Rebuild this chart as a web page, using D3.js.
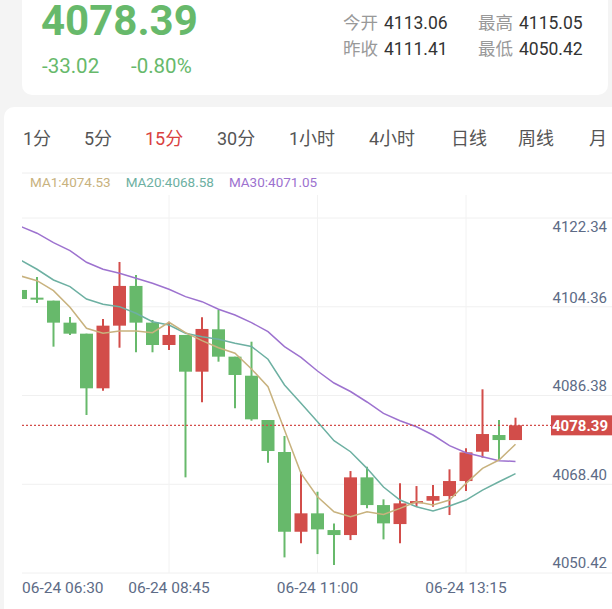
<!DOCTYPE html>
<html>
<head>
<meta charset="utf-8">
<script src="https://cdn.jsdelivr.net/npm/d3@7"></script>
<style>
  body { margin: 0; background: #f4f4f4; font-family: Roboto, "Noto Sans CJK SC", sans-serif; }
  svg { display: block; }
</style>
</head>
<body>
<svg id="chart" width="612" height="609"></svg>
<script>
// header data
const lastPrice = "4078.39";
const change = ["-33.02", "-0.80%"];
const stats = [["今开", "4113.06"], ["最高", "4115.05"], ["昨收", "4111.41"], ["最低", "4050.42"]];
const periods = ["1分", "5分", "15分", "30分", "1小时", "4小时", "日线", "周线", "月"];
const activePeriod = "15分";

// 15-minute candles from 06:30 to 14:00
const opens  = [4105.89,4104.33,4103.72,4099.25,4097.01,4085.91,4098.64,4106.71,4099.25,4094.71,4096.75,4089.29,4097.90,4092.34,4088.47,4079.47,4072.97,4056.77,4060.51,4057.11,4056.10,4067.82,4062.19,4058.33,4062.54,4063.07,4064.02,4067.07,4073.03,4076.42,4075.40];
const highs  = [4105.89,4108.53,4103.72,4100.40,4097.01,4100.00,4111.58,4108.94,4099.79,4099.45,4096.75,4100.34,4101.83,4092.34,4095.38,4079.47,4076.22,4068.96,4064.90,4058.47,4069.10,4069.98,4063.35,4066.60,4066.05,4066.26,4069.45,4073.72,4085.71,4079.47,4079.94];
const lows   = [4104.06,4103.25,4094.37,4096.75,4080.49,4085.42,4094.16,4093.23,4093.23,4093.70,4067.82,4083.07,4091.32,4081.85,4079.33,4070.79,4051.56,4054.41,4052.23,4050.00,4055.08,4061.52,4055.22,4054.41,4061.85,4061.85,4060.16,4065.04,4071.81,4071.20,4075.40];
const closes = [4104.06,4104.00,4099.25,4097.01,4085.91,4098.64,4106.71,4099.25,4094.71,4096.75,4089.29,4097.97,4092.34,4088.62,4079.61,4073.17,4056.77,4060.51,4057.25,4056.10,4067.82,4062.19,4058.47,4062.54,4063.00,4064.02,4067.07,4072.90,4076.62,4075.40,4078.39];
const ma5  = [4108.74,4107.78,4105.75,4102.38,4098.11,4097.09,4097.56,4097.56,4097.21,4099.33,4097.21,4095.59,4094.16,4093.03,4089.84,4086.24,4077.44,4068.64,4063.88,4060.83,4059.81,4060.83,4060.30,4061.52,4062.86,4062.19,4063.21,4066.60,4069.65,4071.34,4074.53];
const ma20 = [4111.99,4110.10,4107.92,4106.56,4104.06,4102.99,4102.50,4101.16,4099.45,4098.78,4097.09,4096.40,4095.87,4095.06,4094.41,4091.81,4086.58,4082.86,4079.12,4075.26,4073.03,4069.65,4065.85,4063.21,4061.85,4060.97,4061.99,4063.21,4065.24,4066.93,4068.58];
const ma30 = [4118.80,4117.42,4115.51,4113.88,4111.52,4110.10,4109.29,4108.27,4107.25,4106.03,4104.53,4103.51,4101.97,4100.81,4099.25,4097.42,4094.37,4092.21,4089.43,4086.99,4085.26,4083.13,4080.83,4079.33,4078.11,4076.42,4074.25,4072.82,4072.01,4071.20,4071.05];
const maLegend = [["MA1:4074.53", "#c8b27e"], ["MA20:4068.58", "#6db0a2"], ["MA30:4071.05", "#9d72cf"]];
const yTicks = [4122.34, 4104.36, 4086.38, 4068.40, 4050.42];
const xTickIdx = [0, 9, 18, 27];
const xTickLabels = ["06-24 06:30", "06-24 08:45", "06-24 11:00", "06-24 13:15"];

const UP = "#d24d4a", DOWN = "#67b96b";
const svg = d3.select("#chart");

// cards
svg.append("rect").attr("x", 22).attr("y", -20).attr("width", 586).attr("height", 115).attr("rx", 10).attr("fill", "#fff");
svg.append("rect").attr("x", 4).attr("y", 107).attr("width", 620).attr("height", 520).attr("rx", 10).attr("fill", "#fff");

svg.append("text").attr("x", 41).attr("y", 35).attr("font-size", 42).attr("font-weight", "bold").attr("fill", DOWN).text(lastPrice);
svg.selectAll(".chg").data(change).join("text").attr("x", (d, i) => [42, 131][i]).attr("y", 73)
  .attr("font-size", 20.5).attr("fill", DOWN).text(d => d);
stats.forEach((s, i) => {
  const g = svg.append("text").attr("x", [343, 478][i % 2]).attr("y", [29, 55][Math.floor(i / 2)]).attr("font-size", 17.5);
  g.append("tspan").attr("fill", "#999").text(s[0]);
  g.append("tspan").attr("fill", "#333").attr("dx", 6).text(s[1]);
});

const tabX = [23, 84, 145, 217, 289, 369, 451, 518, 589];
svg.selectAll(".tab").data(periods).join("text").attr("x", (d, i) => tabX[i]).attr("y", 145)
  .attr("font-size", 18).attr("fill", d => d === activePeriod ? "#d9413f" : "#555").text(d => d);
svg.append("line").attr("x1", 22).attr("x2", 612).attr("y1", 173).attr("y2", 173).attr("stroke", "#eee");

let lx = 30;
maLegend.forEach(m => {
  const t = svg.append("text").attr("x", lx).attr("y", 187).attr("font-size", 13.5).attr("fill", m[1]).text(m[0]);
  lx += t.node().getComputedTextLength() + 15;
});

// scales
const n = closes.length;
const x = d3.scaleLinear().domain([0, n - 1]).range([20.5, 515.5]);
const y = d3.scaleLinear().domain([4050.42, 4122.34]).range([563, 209]);

// grid
d3.range(5).forEach(k => svg.append("line").attr("x1", 22).attr("x2", 612)
  .attr("y1", 218 + k * 88.75).attr("y2", 218 + k * 88.75).attr("stroke", "#f0f0f0"));
xTickIdx.forEach((t, k) => { if (k > 0) svg.append("line").attr("x1", x(t)).attr("x2", x(t)).attr("y1", 195).attr("y2", 573).attr("stroke", "#f2f2f2"); });

svg.append("clipPath").attr("id", "plot").append("rect").attr("x", 22).attr("y", 190).attr("width", 520).attr("height", 390);
const plot = svg.append("g").attr("clip-path", "url(#plot)");

const idx = d3.range(n);
plot.selectAll(".wick").data(idx).join("line")
  .attr("x1", i => x(i)).attr("x2", i => x(i)).attr("y1", i => y(highs[i])).attr("y2", i => y(lows[i]))
  .attr("stroke", i => closes[i] >= opens[i] ? UP : DOWN).attr("stroke-width", 2);
plot.selectAll(".body").data(idx).join("rect")
  .attr("x", i => x(i) - 6.5).attr("width", 13)
  .attr("y", i => y(Math.max(opens[i], closes[i])))
  .attr("height", i => Math.max(2, Math.abs(y(opens[i]) - y(closes[i]))))
  .attr("fill", i => closes[i] >= opens[i] ? UP : DOWN);

[[ma30, "#9d72cf"], [ma20, "#6db0a2"], [ma5, "#c8b27e"]].forEach(([s, c]) => {
  plot.append("path").datum(s).attr("fill", "none").attr("stroke", c).attr("stroke-width", 1.5)
    .attr("d", d3.line().x((d, i) => x(i)).y(d => y(d)));
});

// y labels
svg.selectAll(".yt").data(yTicks).join("text").attr("x", 607).attr("text-anchor", "end")
  .attr("y", (d, i) => Math.max(227, y(d)) + 5).attr("font-size", 15).attr("fill", "#5d6b86").text(d => d.toFixed(2));

// current price
const cy = y(closes[n - 1]);
svg.append("line").attr("x1", 22).attr("x2", 551).attr("y1", cy).attr("y2", cy)
  .attr("stroke", UP).attr("stroke-dasharray", "2,2").attr("stroke-width", 1.2);
svg.append("rect").attr("x", 551).attr("y", cy - 10).attr("width", 61).attr("height", 20).attr("fill", UP);
svg.append("text").attr("x", 608).attr("y", cy + 5.5).attr("text-anchor", "end").attr("font-size", 15)
  .attr("font-weight", "bold").attr("fill", "#fff").text(closes[n - 1].toFixed(2));

// x labels
svg.selectAll(".xt").data(xTickIdx).join("text").attr("x", (d, i) => i === 0 ? 22 : x(d))
  .attr("text-anchor", (d, i) => i === 0 ? "start" : "middle").attr("y", 593)
  .attr("font-size", 15.5).attr("fill", "#5d6b86").text((d, i) => xTickLabels[i]);
</script>
</body>
</html>
